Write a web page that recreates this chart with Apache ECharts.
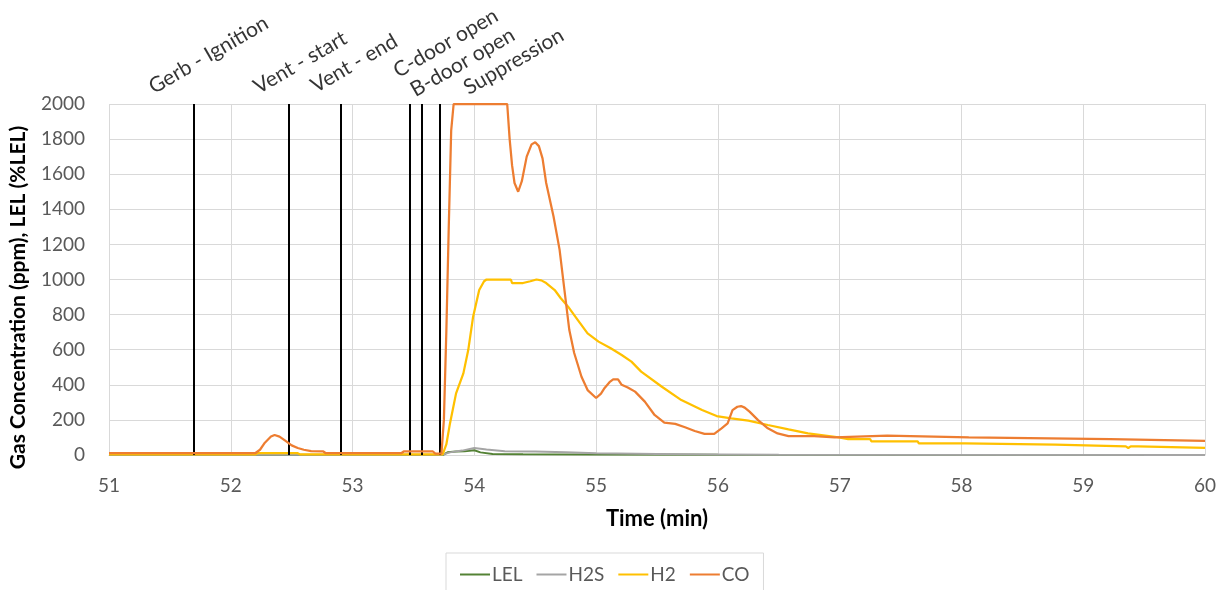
<!DOCTYPE html>
<html>
<head>
<meta charset="utf-8">
<script src="https://cdn.jsdelivr.net/npm/echarts@6/dist/echarts.min.js"></script>
<style>
html,body{margin:0;padding:0;background:#fff;}
#chart{width:1228px;height:590px;}
</style>
</head>
<body>
<div id="chart"></div>
<script>
// ---- data (time in minutes, concentration in ppm / %LEL) ----
const xTicks = [51, 52, 53, 54, 55, 56, 57, 58, 59, 60];
const yTicks = [0, 200, 400, 600, 800, 1000, 1200, 1400, 1600, 1800, 2000];

const eventNames = ["Gerb - Ignition", "Vent - start", "Vent - end", "C-door open", "B-door open", "Suppression"];
const eventTimes = [51.70, 52.48, 52.90, 53.47, 53.57, 53.72];

const lelData = [[51,0],[53.74,0],[53.78,15],[53.85,20],[53.92,22],[54.00,27],[54.05,15],[54.15,6],[54.40,4],[55.00,3],[56.00,1],[60,0]];

const h2sData = [[51,2],[53.74,2],[53.80,15],[53.90,25],[54.00,40],[54.10,32],[54.25,22],[54.50,20],[54.75,15],[55.00,10],[55.50,6],[56.00,3],[56.50,1],[60,0]];

const h2Data = [[51.00,3],[52.20,3],[52.22,10],[52.55,10],[52.57,3],[53.74,3],[53.77,60],[53.80,180],[53.85,351],[53.91,465],[53.95,598],[53.99,788],[54.04,940],[54.08,990],[54.10,1000],[54.30,1000],[54.31,980],[54.40,980],[54.41,990],[54.46,990],[54.51,1000],[54.55,995],[54.59,980],[54.66,940],[54.71,893],[54.77,845],[54.85,769],[54.93,693],[55.02,646],[55.12,608],[55.21,570],[55.29,532],[55.37,475],[55.54,389],[55.70,313],[55.87,256],[55.99,222],[56.11,209],[56.25,196],[56.41,171],[56.58,146],[56.74,123],[56.96,104],[57.07,91],[57.25,91],[57.26,78],[57.64,78],[57.65,66],[58.03,66],[58.04,59],[58.77,59],[58.78,49],[59.35,49],[59.37,40],[59.39,49],[59.45,49],[59.46,40],[60.00,40]];

const coData = [[51.00,10],[52.20,10],[52.24,30],[52.28,70],[52.33,105],[52.36,114],[52.40,105],[52.45,80],[52.50,55],[52.55,40],[52.60,30],[52.66,22],[52.76,20],[52.78,10],[53.40,10],[53.42,20],[53.66,20],[53.68,8],[53.73,8],[53.75,200],[53.77,700],[53.79,1300],[53.81,1850],[53.83,2000],[54.27,2000],[54.29,1800],[54.31,1650],[54.33,1550],[54.36,1500],[54.39,1560],[54.43,1700],[54.47,1770],[54.50,1782],[54.53,1760],[54.56,1690],[54.59,1550],[54.65,1360],[54.70,1170],[54.74,940],[54.78,712],[54.82,581],[54.88,446],[54.93,370],[55.00,325],[55.04,350],[55.07,382],[55.11,415],[55.14,431],[55.18,431],[55.21,400],[55.26,385],[55.32,361],[55.40,304],[55.48,228],[55.56,184],[55.65,177],[55.73,158],[55.81,137],[55.89,120],[55.97,120],[56.03,152],[56.08,180],[56.12,256],[56.16,275],[56.19,279],[56.22,270],[56.26,247],[56.33,199],[56.41,152],[56.49,123],[56.58,108],[56.79,108],[56.80,101],[56.96,101],[56.97,110],[57.39,110],[57.40,101],[58.06,101],[58.07,91],[59.22,91],[59.23,80],[60.00,80]];

// ---- styling ----
const FONT = "Lato, 'Open Sans', sans-serif";
const labelOffsets = [[-38,-6],[-28,-6],[-22,-7],[-9,-22],[-4,-3],[31,-5]];

const chart = echarts.init(document.getElementById('chart'), null, {renderer:'canvas'});

function lineSeries(name, data, color, width, z) {
  return {
    name, type:'line', data, symbol:'none', showSymbol:false, z,
    lineStyle:{color, width}, itemStyle:{color},
    emphasis:{disabled:true}, animation:false
  };
}

chart.setOption({
  animation:false,
  textStyle:{fontFamily:FONT},
  grid:{left:108, right:23, top:104, bottom:135, containLabel:false},
  xAxis:{
    type:'value', min:xTicks[0], max:xTicks[xTicks.length-1], interval:1,
    name:'Time (min)', nameLocation:'middle', nameGap:53,
    nameTextStyle:{color:'#000', fontWeight:'bold', fontSize:22, fontFamily:FONT},
    axisLine:{show:true, lineStyle:{color:'#d9d9d9', width:1}},
    axisTick:{show:false},
    axisLabel:{color:'#595959', fontSize:19, margin:21, fontFamily:FONT},
    splitLine:{show:true, lineStyle:{color:'#d9d9d9', width:1}}
  },
  yAxis:{
    type:'value', min:yTicks[0], max:yTicks[yTicks.length-1], interval:200,
    name:'Gas Concentration (ppm), LEL (%LEL)', nameLocation:'middle', nameGap:80,
    nameTextStyle:{color:'#000', fontWeight:'bold', fontSize:21, fontFamily:FONT, padding:[0,36,0,0]},
    axisLine:{show:false},
    axisTick:{show:false},
    axisLabel:{color:'#595959', fontSize:19, margin:24, fontFamily:FONT, formatter:v=>String(v)},
    splitLine:{show:true, lineStyle:{color:'#d9d9d9', width:1}}
  },
  legend:{
    data:['LEL','H2S','H2','CO'],
    left:446, top:553,
    padding:[12,14,12,14],
    borderColor:'#d9d9d9', borderWidth:1,
    icon:'rect',
    itemWidth:30, itemHeight:2, itemGap:14,
    textStyle:{color:'#595959', fontSize:19, fontFamily:FONT, padding:[0,0,0,-3]},
    selectedMode:false
  },
  series:[
    lineSeries('LEL', lelData, '#548235', 2, 2),
    lineSeries('H2S', h2sData, '#a5a5a5', 2, 3),
    lineSeries('H2', h2Data, '#ffc000', 2.25, 4),
    lineSeries('CO', coData, '#ed7d31', 2.25, 5),
    {
      name:'events', type:'scatter', z:10,
      data: eventTimes.map((t,i)=>({
        value:[t, yTicks[yTicks.length-1]],
        name:eventNames[i],
        label:{position:labelOffsets[i]}
      })),
      symbolSize:1,
      itemStyle:{color:'rgba(0,0,0,0)'},
      silent:true,
      clip:false,
      label:{
        show:true, formatter:p=>p.name, rotate:30,
        align:'left', verticalAlign:'bottom',
        color:'#000', fontSize:21, fontFamily:FONT
      },
      markLine:{
        silent:true, symbol:['none','none'],
        label:{show:false},
        lineStyle:{color:'#000', width:2, type:'solid'},
        emphasis:{disabled:true},
        data: eventTimes.map(t=>({xAxis:t}))
      },
      animation:false
    }
  ]
});
</script>
</body>
</html>
